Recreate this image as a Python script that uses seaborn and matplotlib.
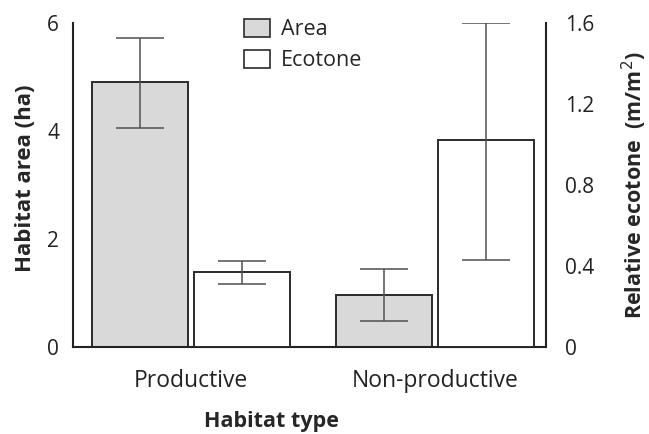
import matplotlib
matplotlib.use("Agg")
import matplotlib.pyplot as plt
import seaborn as sns
import pandas as pd
import numpy as np
from matplotlib.patches import Patch

# ---- data ----
habitats = ["Productive", "Non-productive"]
series = ["Area", "Ecotone"]
area_mean = [4.90, 0.96]
area_low = [4.06, 0.48]
area_high = [5.72, 1.44]
ecotone_mean = [0.37, 1.02]
ecotone_low = [0.31, 0.43]
ecotone_high = [0.425, 1.60]
left_ticks = [0, 2, 4, 6]
right_ticks = [0, 0.4, 0.8, 1.2, 1.6]
right_ticklabels = ["0", "0.4", "0.8", "1.2", "1.6"]

sns.set_style("white")
plt.rcParams["font.family"] = ["Open Sans", "DejaVu Sans"]

fig = plt.figure(figsize=(6.49, 4.34), dpi=100)
ax = fig.add_axes([0.1125, 0.2005, 0.7288, 0.7465])
ax2 = ax.twinx()

# each axis gets both hue levels so that seaborn dodges; the other series is 0 there
df_area = pd.DataFrame({"habitat": habitats * 2,
                        "series": ["Area"] * 2 + ["Ecotone"] * 2,
                        "value": list(area_mean) + [0, 0]})
df_eco = pd.DataFrame({"habitat": habitats * 2,
                       "series": ["Area"] * 2 + ["Ecotone"] * 2,
                       "value": [0, 0] + list(ecotone_mean)})

edge = "#2b2b2b"
pal = {"Area": "#d9d9d9", "Ecotone": "white"}
sns.barplot(data=df_area, x="habitat", y="value", hue="series", hue_order=series,
            order=habitats, palette=pal, width=0.836, gap=0.06,
            edgecolor=edge, linewidth=1.4, ax=ax, legend=False)
sns.barplot(data=df_eco, x="habitat", y="value", hue="series", hue_order=series,
            order=habitats, palette=pal, width=0.836, gap=0.06,
            edgecolor=edge, linewidth=1.4, ax=ax2, legend=False)

def add_err(axis, means, lows, highs):
    bars = [p for p in axis.patches if p.get_height() > 0]
    for p in axis.patches:
        if p.get_height() <= 0:
            p.set_visible(False)
    bars = sorted(bars, key=lambda p: p.get_x())
    xs = [p.get_x() + p.get_width() / 2 for p in bars]
    m = np.array(means); lo = np.array(lows); hi = np.array(highs)
    axis.errorbar(xs, m, yerr=[m - lo, hi - m], fmt="none", ecolor="#505050",
                  elinewidth=1.1, capsize=17, capthick=1.1, zorder=5)

add_err(ax, area_mean, area_low, area_high)
add_err(ax2, ecotone_mean, ecotone_low, ecotone_high)

ax.set_xlim(-0.484, 1.455)
ax.set_ylim(0, 6)
ax2.set_ylim(0, 1.6)
ax.set_yticks(left_ticks)
ax2.set_yticks(right_ticks)
ax2.set_yticklabels(right_ticklabels)

for a in (ax, ax2):
    for s in a.spines.values():
        s.set_visible(False)
    a.tick_params(length=0, labelsize=15, colors="#222222")
    a.grid(False)
ax.spines["left"].set_visible(True)
ax.spines["bottom"].set_visible(True)
ax2.spines["right"].set_visible(True)
for s in (ax.spines["left"], ax.spines["bottom"], ax2.spines["right"]):
    s.set_color("#222222")
    s.set_linewidth(1.5)

ax.tick_params(axis="x", pad=16, labelsize=16.5)
ax.tick_params(axis="y", pad=10)
ax2.tick_params(axis="y", pad=14)

ax.set_xlabel("Habitat type", fontsize=15.5, fontweight="bold")
ax.xaxis.set_label_coords(0.42, -0.199)
ax.set_ylabel("Habitat area (ha)", fontsize=16, fontweight="bold")
ax.yaxis.set_label_coords(-0.078, 0.52)
ax2.set_ylabel("Relative ecotone  (m/m$^2$)", fontsize=15.5, fontweight="bold")
ax2.yaxis.set_label_coords(1.155, 0.5)

handles = [Patch(facecolor="#d9d9d9", edgecolor=edge, linewidth=1.2, label="Area"),
           Patch(facecolor="white", edgecolor=edge, linewidth=1.2, label="Ecotone")]
ax.legend(handles=handles, loc="upper left", bbox_to_anchor=(0.33, 1.06), frameon=False,
          fontsize=15.5, handlelength=1.2, handleheight=0.9, handletextpad=0.5,
          labelspacing=0.45, borderpad=0.2)

fig.savefig("out.png", dpi=100)
